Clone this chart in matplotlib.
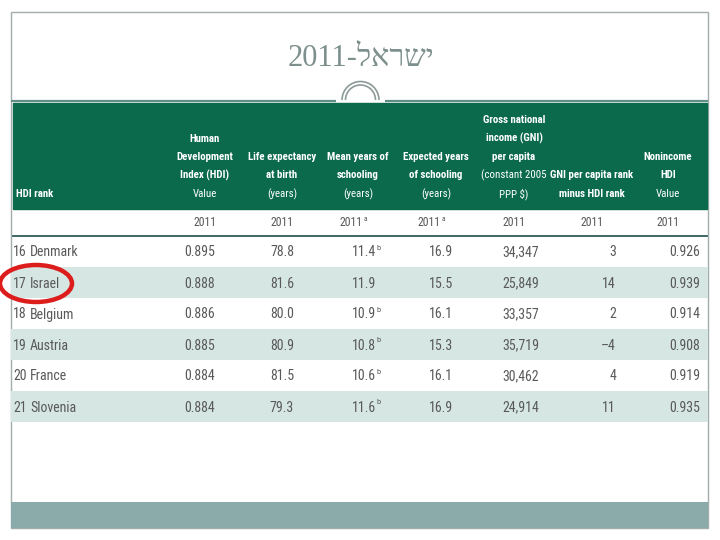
import os
import matplotlib
matplotlib.use('Agg')
import matplotlib.pyplot as plt
from matplotlib import font_manager
from matplotlib.font_manager import FontProperties
from matplotlib.patches import Rectangle, Ellipse, Arc

# ---------------- data ----------------
title_he = "ישראל"
title_year = "2011"
ranks = [16, 17, 18, 19, 20, 21]
countries = ["Denmark", "Israel", "Belgium", "Austria", "France", "Slovenia"]
hdi = [0.895, 0.888, 0.886, 0.885, 0.884, 0.884]
life_exp = [78.8, 81.6, 80.0, 80.9, 81.5, 79.3]
mean_school = [11.4, 11.9, 10.9, 10.8, 10.6, 11.6]
mean_note = ["b", "", "b", "b", "b", "b"]
expected_school = [16.9, 15.5, 16.1, 15.3, 16.1, 16.9]
gni = [34347, 25849, 33357, 35719, 30462, 24914]
gni_minus_hdi = [3, 14, 2, -4, 4, 11]
nonincome_hdi = [0.926, 0.939, 0.914, 0.908, 0.919, 0.935]

header_bold = [
    ["Human", "Development", "Index (HDI)"],
    ["Life expectancy", "at birth"],
    ["Mean years of", "schooling"],
    ["Expected years", "of schooling"],
    ["Gross national", "income (GNI)", "per capita"],
    ["GNI per capita rank", "minus HDI rank"],
    ["Nonincome", "HDI"],
]
header_regular = [
    ["Value"], ["(years)"], ["(years)"], ["(years)"],
    ["(constant 2005", "PPP $)"], [], ["Value"],
]
year_labels = ["2011", "2011", "2011", "2011", "2011", "2011", "2011"]
year_notes = ["", "", "a", "a", "", "", ""]
highlight_country = "Israel"

# ---------------- fonts ----------------
files = {os.path.basename(f.fname).lower(): f.fname for f in font_manager.fontManager.ttflist}


def pick(cands, fallback_weight):
    for c in cands:
        if c.lower() in files:
            return FontProperties(fname=files[c.lower()])
    return FontProperties(family="DejaVu Sans", weight=fallback_weight)


REG = pick(["LiberationSansNarrow-Regular.ttf", "RobotoCondensed-Regular.ttf",
            "DejaVuSansCondensed.ttf", "Roboto-Regular.ttf"], "normal")
BOLD = pick(["LiberationSansNarrow-Bold.ttf", "RobotoCondensed-Bold.ttf",
             "DejaVuSansCondensed-Bold.ttf", "Roboto-Bold.ttf"], "bold")
SERIF = ["Liberation Serif", "DejaVu Serif", "DejaVu Sans"]


def fp(base, size):
    p = base.copy()
    p.set_size(size)
    return p


GREEN = "#0b6a4c"
SHADE = "#d6e6e3"
BAND = "#8aabaa"
TXT = "#595959"
TITLE_C = "#7d908d"

fig = plt.figure(figsize=(7.2, 5.4), dpi=100)
ax = fig.add_axes([0, 0, 1, 1])
ax.set_xlim(0, 720)
ax.set_ylim(540, 0)
ax.axis("off")

# slide frame
ax.add_patch(Rectangle((11, 12), 697, 516, fill=False, ec="#a3adac", lw=1.0, zorder=1))

# title (visual order for RTL Hebrew)
ax.text(361, 59, title_year + "-" + title_he[::-1], ha="center", va="center",
        fontsize=22, color=TITLE_C, family=SERIF, zorder=5)

# separator line with ornament
ax.plot([11, 336], [100.5, 100.5], color="#5f8f86", lw=1.6, solid_capstyle="butt", zorder=3)
ax.plot([385, 708], [100.5, 100.5], color="#5f8f86", lw=1.6, solid_capstyle="butt", zorder=3)
for r in (18.5, 15.0):
    ax.add_patch(Arc((360.5, 100), 2 * r, 2 * r, theta1=180, theta2=360,
                     color="#8c9a98", lw=1.2, zorder=3))

# header block
ax.add_patch(Rectangle((13, 103), 694, 106, color=GREEN, zorder=2))

hdr_x = [205, 282, 358, 436, 514, 592, 668]
line_h = 18.5
bottom_y = 194
HS = 7.8
for cx, bold, reg in zip(hdr_x, header_bold, header_regular):
    lines = [(t, BOLD) for t in bold] + [(t, REG) for t in reg]
    n = len(lines)
    for i, (t, f) in enumerate(lines):
        y = bottom_y - (n - 1 - i) * line_h
        ax.text(cx, y, t, ha="center", va="center", color="white",
                fontproperties=fp(f, HS), zorder=5)
ax.text(16, bottom_y, "HDI rank", ha="left", va="center", color="white",
        fontproperties=fp(BOLD, HS), zorder=5)

# years row
for cx, t, note in zip(hdr_x, year_labels, year_notes):
    if note:
        ax.text(cx + 5, 223, t, ha="right", va="center", color=TXT,
                fontproperties=fp(REG, 8.5), zorder=5)
        ax.text(cx + 5.5, 219, note, ha="left", va="center", color=TXT,
                fontproperties=fp(REG, 5.5), zorder=5)
    else:
        ax.text(cx, 223, t, ha="center", va="center", color=TXT,
                fontproperties=fp(REG, 8.5), zorder=5)
ax.plot([13, 707], [236, 236], color="#2e5d55", lw=1.3, zorder=4)

# data rows
row_top0 = 236
row_h = 31
right_x = [215, 294, 376, 453, 539, 616, 700]
fs = 10
for i in range(len(countries)):
    top = row_top0 + i * row_h
    yc = top + row_h / 2 + 1
    if i % 2 == 1:
        ax.add_patch(Rectangle((11, top), 697, row_h, color=SHADE, lw=0, zorder=2))
    ax.text(13, yc, str(ranks[i]), ha="left", va="center", color=TXT,
            fontproperties=fp(REG, fs), zorder=5)
    ax.text(30, yc, countries[i], ha="left", va="center", color=TXT,
            fontproperties=fp(REG, fs), zorder=5)
    vals = [f"{hdi[i]:.3f}", f"{life_exp[i]:.1f}", f"{mean_school[i]:.1f}",
            f"{expected_school[i]:.1f}", f"{gni[i]:,}",
            f"{gni_minus_hdi[i]}".replace("-", "\u2013"), f"{nonincome_hdi[i]:.3f}"]
    for rx, v in zip(right_x, vals):
        ax.text(rx, yc, v, ha="right", va="center", color=TXT,
                fontproperties=fp(REG, fs), zorder=5)
    if mean_note[i]:
        ax.text(right_x[2] + 0.5, yc - 5, mean_note[i], ha="left", va="center",
                color=TXT, fontproperties=fp(REG, 6), zorder=5)
    if countries[i] == highlight_country:
        ax.add_patch(Ellipse((36, yc), 72, 37, fill=False, ec="#dd1c1c", lw=3.2, zorder=6))

# bottom band
ax.add_patch(Rectangle((11, 502), 697, 26, color=BAND, lw=0, zorder=2))

fig.savefig("out.png", dpi=100)
